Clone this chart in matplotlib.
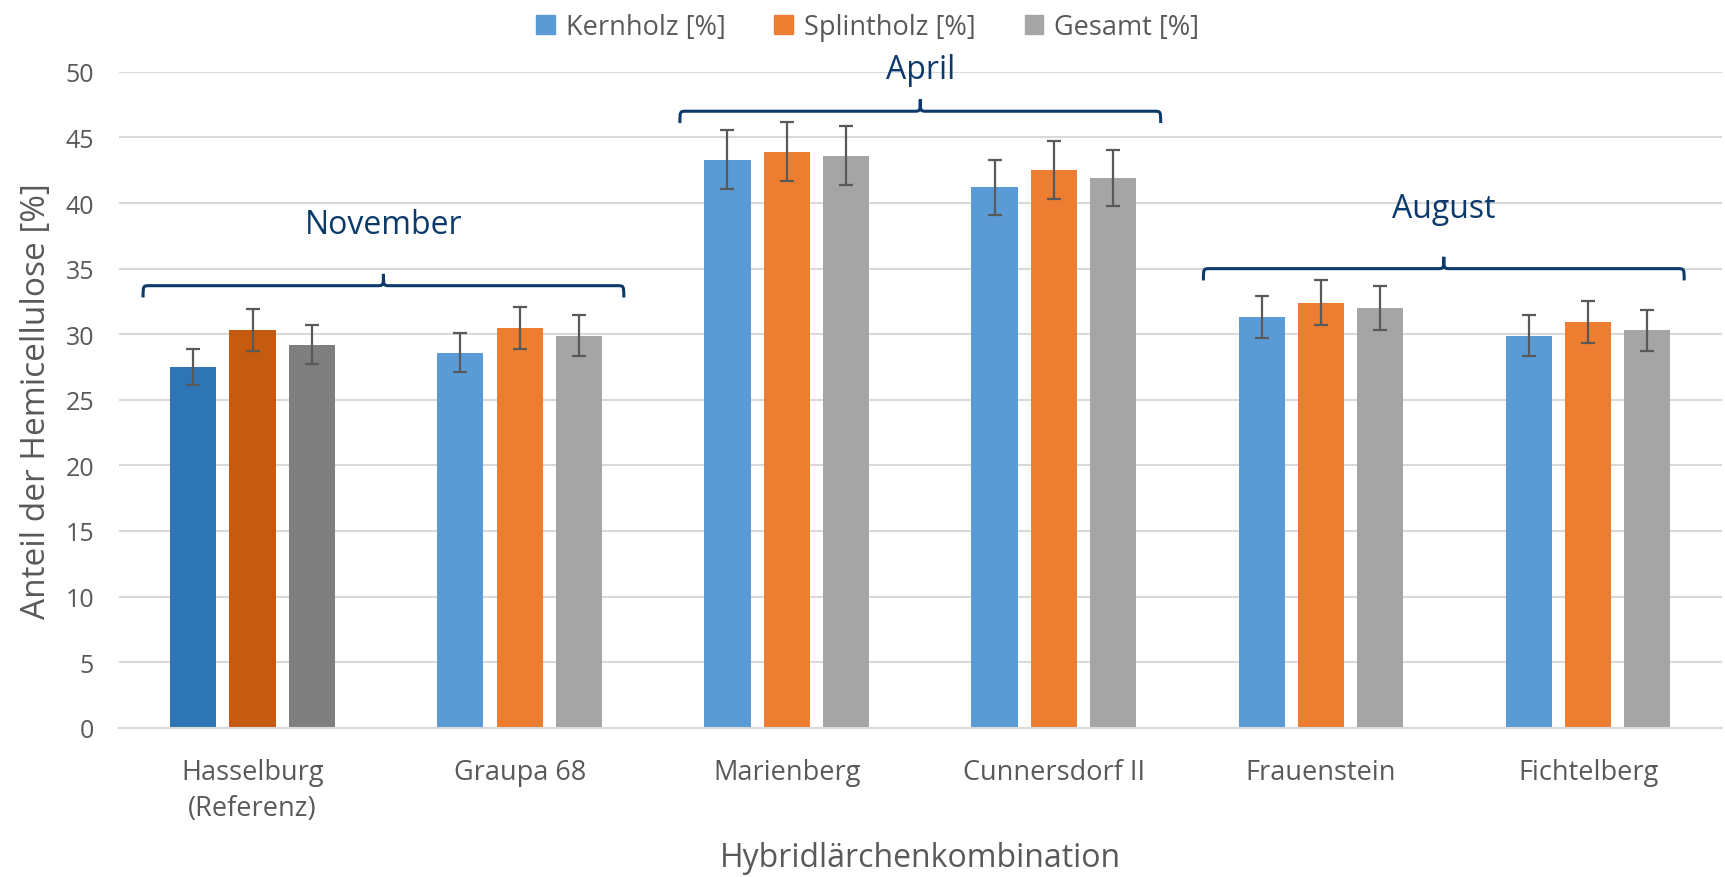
import numpy as np
import matplotlib
matplotlib.use("Agg")
import matplotlib.pyplot as plt
from matplotlib.path import Path
from matplotlib.patches import PathPatch

plt.rcParams['font.family'] = ['Open Sans', 'DejaVu Sans']

sorten = ["Hasselburg\n(Referenz)", "Graupa 68", "Marienberg", "Cunnersdorf II", "Frauenstein", "Fichtelberg"]
kernholz = [27.5, 28.6, 43.3, 41.2, 31.3, 29.9]
kernholz_err = [1.4, 1.5, 2.25, 2.1, 1.6, 1.55]
splintholz = [30.3, 30.5, 43.9, 42.5, 32.4, 30.9]
splintholz_err = [1.6, 1.6, 2.25, 2.2, 1.7, 1.6]
gesamt = [29.2, 29.9, 43.6, 41.9, 32.0, 30.3]
gesamt_err = [1.5, 1.55, 2.25, 2.15, 1.7, 1.55]

# Ernte-Monate und welche Gruppen sie umfassen
monate = ["November", "April", "August"]
monat_gruppen = [(0, 1), (2, 3), (4, 5)]

farben = ["#5B9BD5", "#ED7D31", "#A5A5A5"]
farben_ref = ["#2E75B6", "#C55A11", "#7F7F7F"]
namen = ["Kernholz [%]", "Splintholz [%]", "Gesamt [%]"]

fig = plt.figure(figsize=(17.25, 8.78), dpi=100)
ax = fig.add_axes([0.069, 0.170, 0.929, 0.747])

x = np.arange(len(sorten))
breite = 0.173
schritt = 0.222
serien = [(kernholz, kernholz_err), (splintholz, splintholz_err), (gesamt, gesamt_err)]
for i, (werte, fehler) in enumerate(serien):
    cols = [farben_ref[i]] + [farben[i]] * (len(sorten) - 1)
    ax.bar(x + (i - 1) * schritt, werte, breite, color=cols, label=namen[i], zorder=2)
    ax.errorbar(x + (i - 1) * schritt, werte, yerr=fehler, fmt='none', ecolor='#595959',
                elinewidth=1.6, capsize=5, capthick=1.6, zorder=3)

ax.set_xlim(-0.5, len(sorten) - 0.5)
ax.set_ylim(0, 50)
ax.set_yticks(range(0, 51, 5))
ax.set_xticks(x)
ax.set_xticklabels(sorten, fontsize=19.5, color='#595959', linespacing=1.35)
ax.tick_params(axis='y', labelsize=18, labelcolor='#595959', length=0, pad=18)
ax.tick_params(axis='x', length=0, pad=22)
ax.grid(axis='y', color='#D9D9D9', linewidth=1.5, zorder=0)
ax.set_axisbelow(True)
for s in ['top', 'right', 'left']:
    ax.spines[s].set_visible(False)
ax.spines['bottom'].set_color('#D9D9D9')
ax.spines['bottom'].set_linewidth(1.5)

ax.set_ylabel("Anteil der Hemicellulose [%]", fontsize=24, color='#595959', labelpad=9)
ax.set_xlabel("Hybridlärchenkombination", fontsize=23, color='#595959', labelpad=14)

# geschweifte Klammern ueber den Monatsgruppen
navy = '#0B3A6B'
klammer_hoehe = [33.7, 47.0, 35.0]
text_hoehe = [38.4, 50.2, 39.6]
klammer_rand = [(-0.41, 0.39), (-0.40, 0.40), (-0.44, 0.36)]
for k, name in enumerate(monate):
    a, b = monat_gruppen[k]
    yk = klammer_hoehe[k]
    x0 = a + klammer_rand[k][0]
    x1 = b + klammer_rand[k][1]
    xc = (x0 + x1) / 2
    h = 0.9
    dx = 0.025
    verts = [(x0, yk - h), (x0, yk), (x0, yk), (x0 + dx, yk),
             (xc - dx, yk), (xc, yk), (xc, yk), (xc, yk + 0.9),
             (xc, yk), (xc, yk), (xc + dx, yk),
             (x1 - dx, yk), (x1, yk), (x1, yk), (x1, yk - h)]
    codes = [Path.MOVETO, Path.CURVE4, Path.CURVE4, Path.CURVE4,
             Path.LINETO, Path.CURVE4, Path.CURVE4, Path.CURVE4,
             Path.CURVE4, Path.CURVE4, Path.CURVE4,
             Path.LINETO, Path.CURVE4, Path.CURVE4, Path.CURVE4]
    ax.add_patch(PathPatch(Path(verts, codes), fill=False, edgecolor=navy, linewidth=2.2,
                           clip_on=False, zorder=4))
    ax.text(xc, text_hoehe[k], name, ha='center', va='center', fontsize=23, color=navy,
            clip_on=False)

fig.legend(loc='upper center', bbox_to_anchor=(0.503, 1.0), ncol=3, frameon=False,
           fontsize=19.5, labelcolor='#595959', handlelength=0.7, handleheight=0.7,
           handletextpad=0.4, columnspacing=1.8, borderaxespad=0.1,
           handles=[plt.Rectangle((0, 0), 1, 1, color=c) for c in farben], labels=namen)

fig.savefig("out.png", dpi=100)
